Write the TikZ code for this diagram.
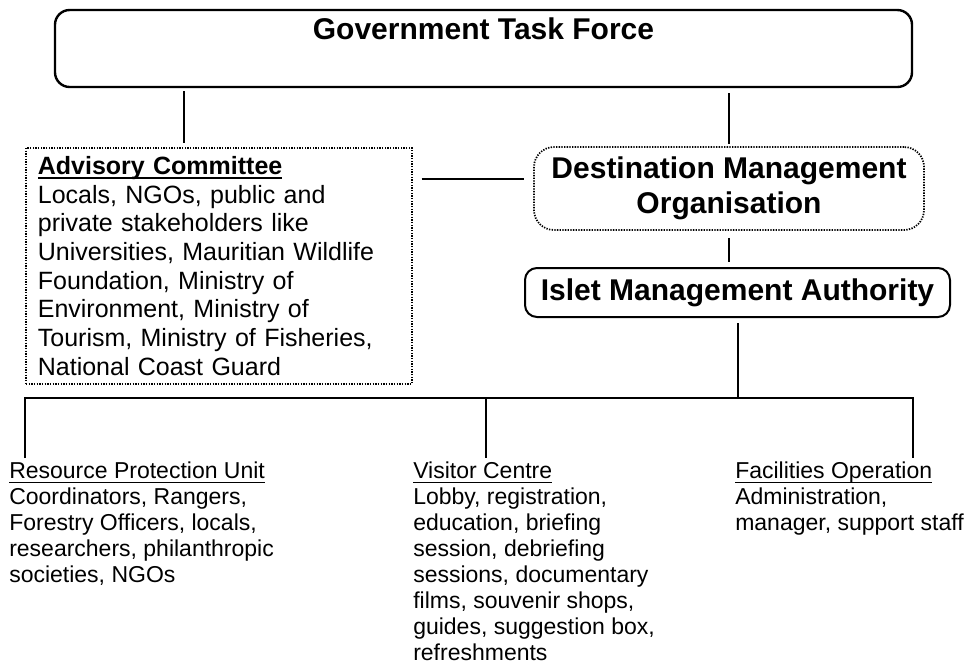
\documentclass[tikz,border=0pt]{standalone}
\usepackage{fontspec}
\setmainfont{Liberation Sans}
\usepackage{tikz}
\usetikzlibrary{calc}
\newsavebox{\ulbox}
\newcommand{\ulhead}[2][1pt]{\sbox{\ulbox}{#2}\rlap{\rule[-3.2pt]{\wd\ulbox}{#1}}\usebox{\ulbox}}
\tikzstyle{link} = [line width=1.5pt]
\tikzset{
  headbox/.style={draw, line width=1.8pt, rounded corners=11pt},
  dotbox/.style={draw, line width=1.3pt, dash pattern=on 1pt off 1pt},
  bigtext/.style={font=\fontsize{22.5}{26.25}\selectfont\bfseries},
  midtext/.style={font=\fontsize{18.75}{21.5}\selectfont},
  smalltext/.style={font=\fontsize{17.25}{19.5}\selectfont, inner sep=0pt, align=left, anchor=north west}
}

\begin{document}
\begin{tikzpicture}[x=0.75pt, y=-0.75pt]
\useasboundingbox (0,0) rectangle (966,665);

\node[headbox, minimum width=642.75pt, minimum height=57.75pt] (gtf) at (483.5,48.5) {};
\node[bigtext] (gtftitle) at (483.5,29) {Government Task Force};

\node[dotbox, midtext, anchor=north west, text width=271.5pt, inner xsep=9pt, inner ysep=0pt,
      minimum height=177pt, align=left] (ac) at (25,147)
  {\ulhead[1.5pt]{\textbf{Advisory Committee}}\\
   Locals, NGOs, public and\\
   private stakeholders like\\
   Universities, Mauritian Wildlife\\
   Foundation, Ministry of\\
   Environment, Ministry of\\
   Tourism, Ministry of Fisheries,\\
   National Coast Guard};

\node[dotbox, rounded corners=15pt, bigtext, align=center, minimum width=292.5pt,
      minimum height=62.25pt] (dmo) at (729,188.5) {Destination Management\\Organisation};
\node[draw, link, rounded corners=9pt, bigtext, minimum width=318.75pt,
      minimum height=36.75pt] (ima) at (737.5,292.5) {Islet Management Authority};

\node[smalltext] (rpu) at (9,462)
  {\ulhead{Resource Protection Unit}\\Coordinators, Rangers,\\Forestry Officers, locals,\\researchers, philanthropic\\societies, NGOs};
\node[smalltext] (vis) at (413,462)
  {\ulhead{Visitor Centre}\\Lobby, registration,\\education, briefing\\session, debriefing\\sessions, documentary\\films, souvenir shops,\\guides, suggestion box,\\refreshments};
\node[smalltext] (fac) at (735,462)
  {\ulhead{Facilities Operation}\\Administration,\\manager, support staff};

\coordinate (rpu-drop) at (25,458);
\coordinate (vis-drop) at (486,458);
\coordinate (fac-drop) at (913,458);
\coordinate (bus) at ([yshift=-60pt]ima.south);

\draw[link, shorten <=2.25pt, shorten >=3pt] ([xshift=-26.25pt]ac.north |- gtf.south) -- ([xshift=-26.25pt]ac.north);
\draw[link, shorten <=3.75pt, shorten >=1.5pt] (dmo.north |- gtf.south) -- (dmo.north);
\draw[link, shorten <=6.75pt, shorten >=6.75pt] ([yshift=7.5pt]dmo.west -| ac.east) -- ([yshift=7.5pt]dmo.west);
\draw[link, shorten <=5.25pt, shorten >=3.75pt] (dmo.south) -- (dmo.south |- ima.north);
\draw[link, shorten <=3.75pt] (ima.south) -- (bus);
\draw[link] (rpu-drop) |- (bus) -| (fac-drop);
\draw[link] (bus -| vis-drop) -- (vis-drop);
\end{tikzpicture}
\end{document}
